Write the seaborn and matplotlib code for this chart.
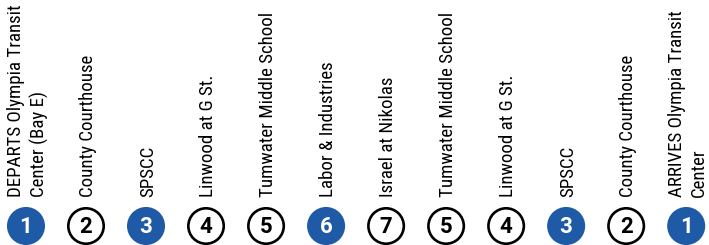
import seaborn as sns
import pandas as pd
import matplotlib.pyplot as plt
import logging

logging.getLogger('matplotlib.font_manager').setLevel(logging.ERROR)

# stops along the route, in order
stops = ["DEPARTS Olympia Transit\nCenter (Bay E)", "County Courthouse", "SPSCC",
         "Linwood at G St.", "Tumwater Middle School", "Labor & Industries",
         "Israel at Nikolas", "Tumwater Middle School", "Linwood at G St.",
         "SPSCC", "County Courthouse", "ARRIVES Olympia Transit\nCenter"]
stop_nums = [1, 2, 3, 4, 5, 6, 7, 5, 4, 3, 2, 1]
timepoint = [True, False, True, False, False, True, False, False, False, True, False, True]

blue = "#1f5aa6"

sns.set_style("white")
plt.rcParams['font.family'] = ['Roboto Condensed', 'Liberation Sans Narrow', 'Roboto', 'DejaVu Sans']

df = pd.DataFrame({"pos": range(len(stops)), "stop": stops,
                   "num": stop_nums, "timepoint": timepoint})
df["row"] = 226

fig = plt.figure(figsize=(7.09, 2.45), dpi=100)
ax = fig.add_axes([0, 0, 1, 1])

sns.scatterplot(data=df, x="pos", y="row", hue="timepoint",
                palette={True: blue, False: "white"}, s=650,
                edgecolor=[blue if t else "black" for t in timepoint],
                linewidth=1.9, legend=False, ax=ax, zorder=2)

for _, r in df.iterrows():
    ax.text(r["pos"], r["row"] + 1, str(r["num"]), ha="center", va="center",
            fontsize=16, fontweight="bold", family=["Roboto", "DejaVu Sans"],
            color="white" if r["timepoint"] else "black", zorder=3)
    ax.text(r["pos"] + 0.03, 197, r["stop"], rotation=90, ha="center", va="bottom",
            multialignment="left", fontsize=13.6, color="black", linespacing=1.3)

ax.set_xlim(-0.433, 11.38)
ax.set_ylim(245, 0)
ax.axis("off")

fig.savefig("out.png", dpi=100)
